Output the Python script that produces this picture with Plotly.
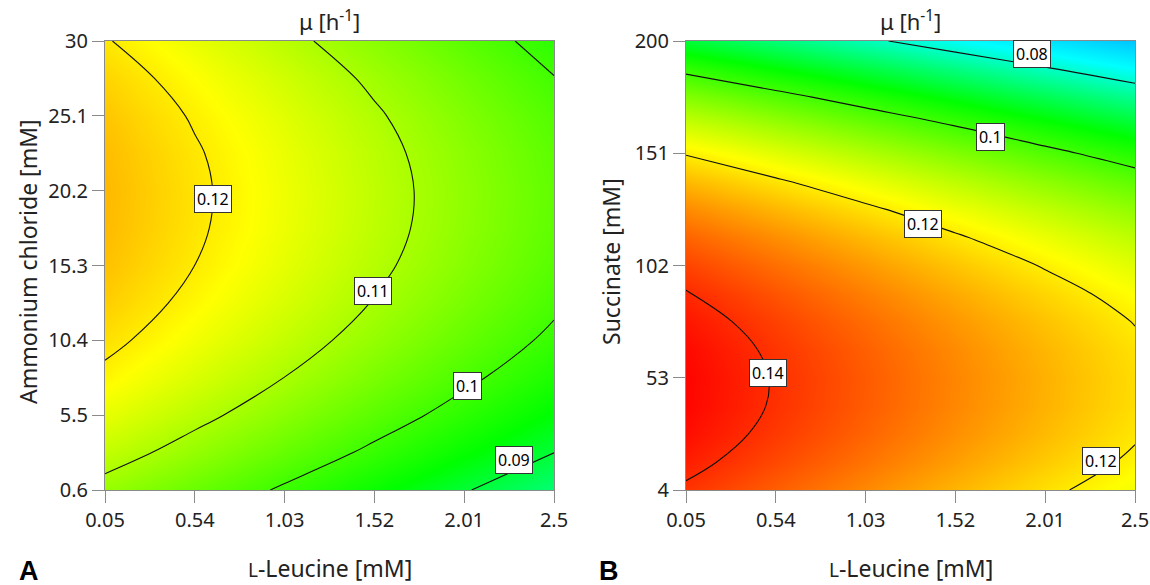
import plotly.graph_objects as go

# ---------------- data ----------------
leucine = [0.05, 0.54, 1.03, 1.52, 2.01, 2.5]
leucine_ticktext = ["0.05", "0.54", "1.03", "1.52", "2.01", "2.5"]

ammonium = [0.6, 3.05, 5.5, 7.95, 10.4, 12.85, 15.3, 17.75, 20.2, 22.65, 25.1, 27.55, 30]
ammonium_ticks = [0.6, 5.5, 10.4, 15.3, 20.2, 25.1, 30]
ammonium_ticktext = ["0.6", "5.5", "10.4", "15.3", "20.2", "25.1", "30"]

# mu [1/h], rows follow `ammonium`, columns follow `leucine`
mu_ammonium = [
    [0.10821, 0.10375, 0.09929, 0.09483, 0.09037, 0.08591],
    [0.11233, 0.10787, 0.10341, 0.09895, 0.09449, 0.09003],
    [0.11588, 0.11142, 0.10696, 0.10250, 0.09804, 0.09358],
    [0.11887, 0.11441, 0.10995, 0.10549, 0.10103, 0.09657],
    [0.12129, 0.11683, 0.11237, 0.10791, 0.10345, 0.09899],
    [0.12315, 0.11869, 0.11423, 0.10977, 0.10531, 0.10085],
    [0.12445, 0.11999, 0.11553, 0.11107, 0.10661, 0.10215],
    [0.12518, 0.12072, 0.11626, 0.11180, 0.10734, 0.10288],
    [0.12535, 0.12089, 0.11643, 0.11197, 0.10751, 0.10305],
    [0.12495, 0.12049, 0.11603, 0.11157, 0.10711, 0.10265],
    [0.12399, 0.11953, 0.11507, 0.11061, 0.10615, 0.10169],
    [0.12246, 0.11800, 0.11354, 0.10908, 0.10462, 0.10016],
    [0.12037, 0.11591, 0.11145, 0.10699, 0.10253, 0.09807],
]

succinate = [4, 16.25, 28.5, 40.75, 53, 65.25, 77.5, 89.75, 102, 114.25, 126.5,
             138.75, 151, 163.25, 175.5, 187.75, 200]
succinate_ticks = [4, 53, 102, 151, 200]
succinate_ticktext = ["4", "53", "102", "151", "200"]

# mu [1/h], rows follow `succinate`, columns follow `leucine`
mu_succinate = [
    [0.13924, 0.13474, 0.13023, 0.12573, 0.12122, 0.11672],
    [0.14154, 0.13704, 0.13253, 0.12803, 0.12352, 0.11902],
    [0.14313, 0.13863, 0.13412, 0.12962, 0.12511, 0.12061],
    [0.14400, 0.13950, 0.13499, 0.13049, 0.12598, 0.12148],
    [0.14415, 0.13965, 0.13514, 0.13064, 0.12613, 0.12163],
    [0.14359, 0.13909, 0.13458, 0.13008, 0.12557, 0.12107],
    [0.14231, 0.13781, 0.13330, 0.12880, 0.12429, 0.11979],
    [0.14032, 0.13582, 0.13131, 0.12681, 0.12230, 0.11780],
    [0.13761, 0.13311, 0.12860, 0.12410, 0.11959, 0.11509],
    [0.13418, 0.12968, 0.12517, 0.12067, 0.11616, 0.11166],
    [0.13004, 0.12554, 0.12103, 0.11653, 0.11202, 0.10752],
    [0.12518, 0.12068, 0.11617, 0.11167, 0.10716, 0.10266],
    [0.11961, 0.11511, 0.11060, 0.10610, 0.10159, 0.09709],
    [0.11332, 0.10882, 0.10431, 0.09981, 0.09530, 0.09080],
    [0.10632, 0.10182, 0.09731, 0.09281, 0.08830, 0.08380],
    [0.09860, 0.09410, 0.08959, 0.08509, 0.08058, 0.07608],
    [0.09016, 0.08566, 0.08115, 0.07665, 0.07214, 0.06764],
]

levels_ammonium = [0.09, 0.10, 0.11, 0.12]
levels_succinate = [0.08, 0.10, 0.12, 0.14]

# contour label positions (x, y, text) in data units
labels_ammonium = [(0.639, 19.68, "0.12"), (1.51, 13.6, "0.11"),
                   (2.03, 7.41, "0.1"), (2.282, 2.54, "0.09")]
labels_succinate = [(1.939, 194.5, "0.08"), (1.711, 158.2, "0.1"),
                    (1.344, 120.3, "0.12"), (0.498, 55.2, "0.14"),
                    (2.316, 16.6, "0.12")]

# ---------------- styling ----------------
ZMIN, ZMAX = 0.060, 0.1445
def nz(v):
    return (v - ZMIN) / (ZMAX - ZMIN)

colorscale = [
    [0.0, "rgb(0,120,255)"],
    [nz(0.068), "rgb(0,200,255)"],
    [nz(0.076), "rgb(0,255,255)"],
    [nz(0.094), "rgb(0,255,0)"],
    [nz(0.118), "rgb(255,255,0)"],
    [1.0, "rgb(255,0,0)"],
]

FONT = "Noto Sans"
W, H = 1150, 585

fig = go.Figure()

def add_panel(xa, ya, yvals, z, levels):
    fig.add_trace(go.Heatmap(
        x=leucine, y=yvals, z=z, zsmooth="best", colorscale=colorscale,
        zmin=ZMIN, zmax=ZMAX, showscale=False, hoverinfo="skip",
        xaxis=xa, yaxis=ya))
    step = levels[1] - levels[0]
    fig.add_trace(go.Contour(
        x=leucine, y=yvals, z=z, showscale=False, hoverinfo="skip",
        contours=dict(start=levels[0], end=levels[-1] + step * 0.01, size=step,
                      coloring="none", showlabels=False),
        line=dict(color="#111", width=1.1, smoothing=1.0),
        xaxis=xa, yaxis=ya))

add_panel("x", "y", ammonium, mu_ammonium, levels_ammonium)
add_panel("x2", "y2", succinate, mu_succinate, levels_succinate)

left_dom = [105 / W, 554 / W]
right_dom = [686 / W, 1135 / W]
y_dom = [(H - 490) / H, (H - 41) / H]

axis_common = dict(showline=True, mirror=True, linecolor="#8a8a8a", linewidth=1,
                   ticks="outside", ticklen=12, tickcolor="#8a8a8a", tickwidth=1,
                   showgrid=False, zeroline=False, automargin=False,
                   tickfont=dict(family=FONT, size=20, color="#222"))

fig.update_layout(
    width=W, height=H,
    margin=dict(l=0, r=0, t=0, b=0, pad=0, autoexpand=False),
    paper_bgcolor="white", plot_bgcolor="white", showlegend=False,
    xaxis=dict(domain=left_dom, range=[0.05, 2.5], tickvals=leucine,
               ticktext=leucine_ticktext, anchor="y", **axis_common),
    yaxis=dict(domain=y_dom, range=[0.6, 30], tickvals=ammonium_ticks,
               ticktext=ammonium_ticktext, anchor="x", **axis_common),
    xaxis2=dict(domain=right_dom, range=[0.05, 2.5], tickvals=leucine,
                ticktext=leucine_ticktext, anchor="y2", **axis_common),
    yaxis2=dict(domain=y_dom, range=[4, 200], tickvals=succinate_ticks,
                ticktext=succinate_ticktext, anchor="x2", **axis_common),
)

ann = []
for xr, yr, labs in [("x", "y", labels_ammonium), ("x2", "y2", labels_succinate)]:
    for (lx, ly, t) in labs:
        ann.append(dict(x=lx, y=ly, xref=xr, yref=yr, text=t, showarrow=False,
                        font=dict(family=FONT, size=16, color="black"),
                        bgcolor="white", bordercolor="#333", borderwidth=1,
                        borderpad=2))

def px_x(p):
    return p / W
def px_y(p):
    return (H - p) / H

title_font = dict(family=FONT, size=22, color="#222")
label_font = dict(family=FONT, size=23, color="#222")
xlabel = "<span style='font-size:19px'>L</span>-Leucine [mM]"
for cx in [(105 + 554) / 2, (686 + 1135) / 2]:
    ann.append(dict(x=px_x(cx), y=px_y(21), xref="paper", yref="paper",
                    text="μ [h<sup>-1</sup>]", showarrow=False, font=title_font,
                    xanchor="center", yanchor="middle"))
    ann.append(dict(x=px_x(cx), y=px_y(568), xref="paper", yref="paper",
                    text=xlabel, showarrow=False, font=label_font,
                    xanchor="center", yanchor="middle"))
ann.append(dict(x=px_x(28), y=px_y(262), xref="paper", yref="paper",
                text="Ammonium chloride [mM]", textangle=-90, showarrow=False,
                font=label_font, xanchor="center", yanchor="middle"))
ann.append(dict(x=px_x(611), y=px_y(262), xref="paper", yref="paper",
                text="Succinate [mM]", textangle=-90, showarrow=False,
                font=label_font, xanchor="center", yanchor="middle"))
for cx, lab in [(29, "A"), (609, "B")]:
    ann.append(dict(x=px_x(cx), y=px_y(588), xref="paper", yref="paper",
                    text="<b>%s</b>" % lab, showarrow=False,
                    font=dict(family="Liberation Sans", size=27, color="black"),
                    xanchor="center", yanchor="bottom"))

fig.update_layout(annotations=ann)
fig.write_html("out.html")
